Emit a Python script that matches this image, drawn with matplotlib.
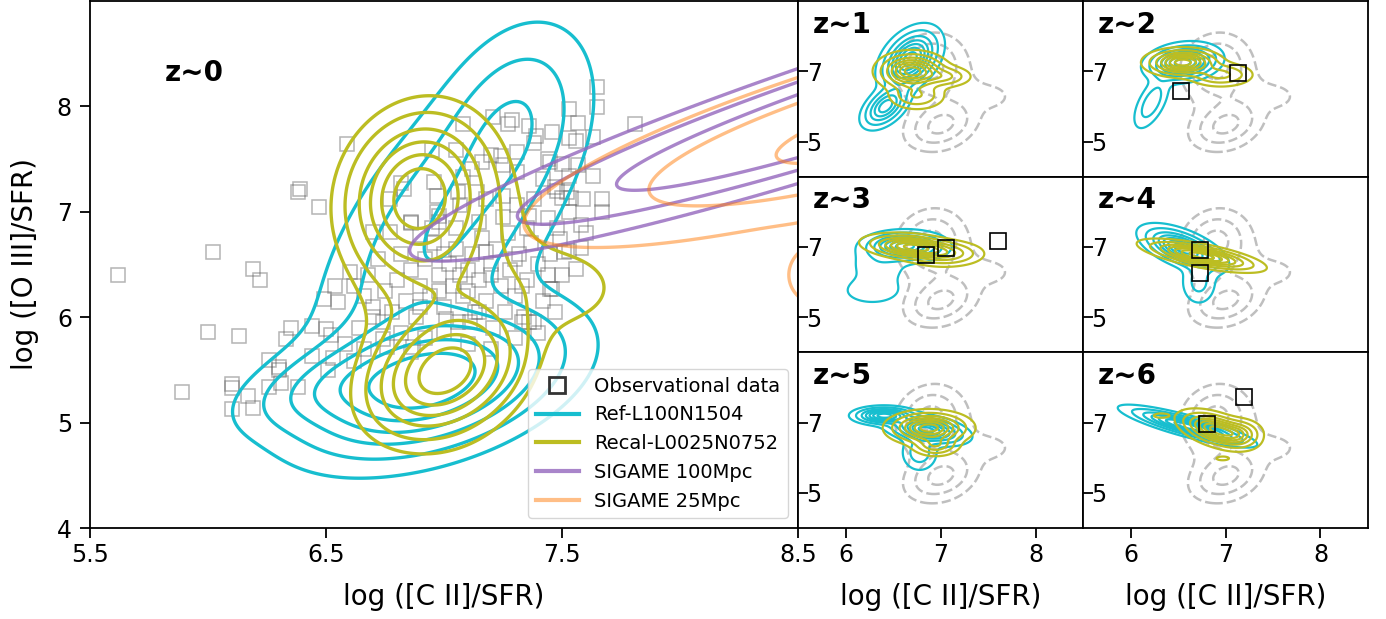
import numpy as np
import matplotlib.pyplot as plt
from matplotlib.lines import Line2D

# observational data, z~0 panel (log [C II]/SFR, log [O III]/SFR)
obs0_x = [5.62, 6.02, 6.19, 6.22, 6.39, 6.38, 6.47, 6.59, 5.89, 6.00, 6.13, 6.10, 6.10, 6.17, 6.19,
          6.10, 6.26, 6.30, 6.30, 6.26, 6.31, 6.38, 6.35, 6.33, 6.44, 6.44, 6.50, 6.52, 6.53, 6.51,
          6.62, 6.49, 6.55, 6.54, 6.86,
          6.82, 6.83, 6.95, 6.96, 6.97, 6.86, 6.77, 6.98, 7.08, 7.21, 7.29, 7.36, 7.27, 7.39, 7.46,
          7.65, 7.65, 7.53, 7.57, 7.81, 7.63, 7.53, 7.56, 7.05, 7.12, 7.20, 7.24, 7.31, 7.38, 7.44,
          7.45, 7.57, 7.63, 7.67, 7.67, 7.59, 7.52, 7.53, 7.58, 7.49, 7.53, 7.56, 7.51, 7.46, 7.48,
          7.42, 7.31, 7.25, 7.16, 7.08, 7.07, 7.06, 7.14, 7.18, 7.25, 7.31, 7.38, 7.36, 7.44, 6.97,
          6.98, 6.86, 6.77, 6.70, 6.90, 6.60, 7.50, 7.53, 7.47, 7.50, 7.54, 7.60, 7.58, 7.50,
          6.62, 6.66, 6.70, 6.68, 6.72, 6.75, 6.78, 6.80, 6.82, 6.84, 6.86, 6.88, 6.90, 6.92, 6.94,
          6.96, 6.98, 7.00, 7.02, 7.04, 7.05, 7.06, 7.08, 7.10, 7.12, 7.13, 7.15, 7.16, 7.18, 7.20,
          7.21, 7.22, 7.24, 7.26, 7.27, 7.28, 7.30, 7.32, 7.34, 7.35, 7.37, 7.38, 7.40, 7.42, 7.44,
          7.45, 7.47, 7.48, 6.74, 6.82, 6.92, 7.00, 7.10, 7.20, 7.30, 7.40, 6.95, 7.05, 7.15, 7.25,
          7.35, 6.70, 6.64, 6.58, 6.66, 6.76, 7.00, 6.90, 7.10, 7.20, 7.30, 7.33, 7.15, 6.98, 7.07,
          7.18, 7.36, 7.45, 7.33, 7.11, 7.01, 6.87, 6.74]
obs0_y = [6.40, 6.62, 6.46, 6.35, 7.22, 7.19, 7.05, 7.64, 5.29, 5.86, 5.82, 5.37, 5.33, 5.25, 5.14,
          5.13, 5.59, 5.53, 5.50, 5.34, 5.38, 5.34, 5.90, 5.79, 5.63, 5.92, 5.89, 5.83, 5.61, 5.50,
          5.58, 6.17, 6.14, 6.30, 5.67,
          7.27, 7.22, 7.59, 7.28, 7.15, 6.89, 7.12, 6.96, 7.83, 7.90, 7.87, 7.81, 7.83, 7.72, 7.76,
          8.18, 7.99, 7.98, 7.84, 7.83, 7.71, 7.70, 7.67, 7.59, 7.41, 7.54, 7.53, 7.57, 7.65, 7.50,
          7.47, 7.44, 7.34, 7.12, 7.00, 7.12, 7.19, 7.00, 6.87, 6.74, 6.63, 6.46, 6.62, 6.27, 7.20,
          7.31, 7.38, 7.44, 7.47, 7.33, 7.06, 7.19, 7.19, 7.12, 7.15, 7.06, 7.12, 6.96, 6.94, 7.00,
          6.90, 6.90, 6.81, 6.81, 6.78, 6.43, 7.45, 7.34, 7.24, 7.13, 7.13, 6.80, 6.66, 6.40,
          6.30, 6.20, 6.10, 6.40, 6.55, 6.25, 6.05, 6.35, 6.60, 6.15, 6.45, 6.00, 6.30, 6.55, 6.20,
          6.70, 6.40, 6.10, 6.50, 6.30, 6.65, 5.95, 6.20, 6.45, 6.60, 6.05, 6.35, 6.75, 6.15, 6.50,
          5.90, 6.65, 6.30, 6.05, 6.80, 6.45, 6.20, 6.60, 6.00, 6.35, 6.70, 5.95, 6.50, 6.15, 6.40,
          6.60, 6.05, 6.85, 5.95, 5.85, 5.80, 5.85, 5.75, 5.70, 5.80, 5.85, 6.85, 6.85, 6.90, 6.95,
          6.85, 6.00, 5.90, 5.75, 5.70, 5.72, 6.60, 6.10, 6.25, 6.40, 6.55, 6.30, 6.05, 6.25, 6.40,
          6.62, 5.95, 6.27, 5.95, 5.95, 5.98, 5.72, 5.79]

# observational points in the high-z panels
obs_hz = {
    2: ([6.53, 7.13], [6.43, 6.94]),
    3: ([6.85, 7.06, 7.60], [6.77, 6.97, 7.17]),
    4: ([6.73, 6.73], [6.91, 6.26]),
    6: ([6.80, 7.20], [6.97, 7.72]),
}

# gaussian components: (x0, y0, sx, sy, rho, weight)
ref_z0 = [(6.95, 5.38, 0.30, 0.38, 0.40, 1.0),
          (6.50, 5.35, 0.22, 0.25, 0.50, 0.22),
          (7.00, 6.80, 0.30, 0.85, 0.60, 0.33),
          (7.30, 7.90, 0.17, 0.50, 0.30, 0.22)]
recal_z0 = [(6.89, 7.15, 0.15, 0.38, 0.10, 1.0),
            (7.00, 5.47, 0.16, 0.30, 0.30, 0.95),
            (7.02, 6.30, 0.20, 0.75, 0.00, 0.22),
            (7.50, 6.28, 0.20, 0.30, 0.00, 0.08)]
sig100 = [(8.90, 8.10, 0.60, 0.46, 0.935, 1.0)]
sig25 = [(9.00, 7.90, 0.586, 0.437, 0.818, 1.0),
         (8.60, 6.40, 0.12, 0.25, 0.00, 0.035)]

ref_hz = {
    1: [(6.68, 7.35, 0.15, 0.42, 0.40, 1.0), (6.42, 6.00, 0.12, 0.30, 0.50, 0.7)],
    2: [(6.55, 7.25, 0.18, 0.25, 0.20, 1.0), (6.22, 6.10, 0.10, 0.40, 0.60, 0.25)],
    3: [(6.63, 7.02, 0.20, 0.20, 0.00, 1.0), (6.35, 6.50, 0.18, 0.35, 0.00, 0.12),
        (6.28, 5.75, 0.20, 0.25, 0.00, 0.11)],
    4: [(6.55, 6.95, 0.20, 0.30, -0.60, 1.0), (6.72, 6.00, 0.10, 0.35, 0.00, 0.2)],
    5: [(6.40, 7.20, 0.15, 0.12, 0.00, 1.0), (6.85, 6.80, 0.20, 0.20, -0.40, 1.0),
        (6.78, 6.15, 0.10, 0.28, 0.00, 0.25)],
    6: [(6.60, 6.90, 0.30, 0.25, -0.85, 1.0)],
}
recal_hz = {
    1: [(6.70, 7.00, 0.17, 0.25, 0.00, 1.0), (7.05, 6.85, 0.14, 0.15, 0.00, 0.3),
        (6.75, 6.30, 0.15, 0.20, 0.00, 0.3)],
    2: [(6.55, 7.25, 0.18, 0.18, 0.00, 1.0), (6.95, 6.90, 0.17, 0.17, 0.00, 0.35)],
    3: [(6.70, 7.00, 0.23, 0.17, -0.30, 1.0), (7.05, 6.80, 0.20, 0.18, 0.00, 0.4)],
    4: [(6.75, 6.75, 0.28, 0.20, -0.70, 1.0)],
    5: [(6.88, 6.85, 0.20, 0.22, 0.00, 1.0), (6.95, 6.35, 0.12, 0.15, 0.00, 0.4)],
    6: [(6.90, 6.80, 0.18, 0.25, -0.50, 1.0), (7.15, 6.70, 0.12, 0.20, 0.00, 0.4),
        (6.32, 7.20, 0.05, 0.04, 0.00, 0.15), (6.97, 5.98, 0.05, 0.04, 0.00, 0.12)],
}

CYAN = '#17becf'
OLIVE = '#bcbd22'
PURPLE = '#9467bd'
ORANGE = '#ff7f0e'

gx, gy = np.meshgrid(np.linspace(5.0, 10.0, 500), np.linspace(3.5, 10.5, 500))


def density(comps):
    z = np.zeros_like(gx)
    for x0, y0, sx, sy, rho, w in comps:
        dx = (gx - x0) / sx
        dy = (gy - y0) / sy
        q = (dx**2 - 2 * rho * dx * dy + dy**2) / (1 - rho**2)
        z += w * np.exp(-0.5 * q)
    return z / z.max()


plt.rcParams['font.family'] = 'DejaVu Sans'
fig = plt.figure(figsize=(13.86, 6.19), dpi=100)

ax = fig.add_axes([0.0649, 0.147, 0.5108, 0.8514])
ax.plot(obs0_x, obs0_y, ls='none', marker='s', ms=9.5, mfc='none',
        mec=(0.35, 0.35, 0.35, 0.45), mew=1.1)
ax.contour(gx, gy, density(ref_z0), levels=[0.06, 0.16, 0.3, 0.45, 0.62, 0.8],
           colors=CYAN, linewidths=2.4)
ax.contour(gx, gy, density(recal_z0), levels=[0.05, 0.12, 0.25, 0.4, 0.58, 0.78],
           colors=OLIVE, linewidths=2.4)
ax.contour(gx, gy, density(sig100), levels=[0.003, 0.03, 0.15],
           colors=PURPLE, linewidths=2.4, alpha=0.8)
ax.contour(gx, gy, density(sig25), levels=[0.018, 0.155, 0.6],
           colors=ORANGE, linewidths=2.4, alpha=0.5)
ax.set_xlim(5.5, 8.5)
ax.set_ylim(4, 9)
ax.set_xticks([5.5, 6.5, 7.5, 8.5])
ax.set_yticks([4, 5, 6, 7, 8])
ax.tick_params(labelsize=17, length=7, width=1.3)
ax.tick_params(axis='y', pad=6)
for s in ax.spines.values():
    s.set_linewidth(1.3)
ax.set_xlabel('log ([C II]/SFR)', fontsize=20, labelpad=12)
ax.set_ylabel('log ([O III]/SFR)', fontsize=20, labelpad=13)
ax.text(0.105, 0.848, 'z~0', transform=ax.transAxes, fontsize=20, fontweight='bold')

handles = [
    Line2D([], [], ls='none', marker='s', ms=11, mfc='none', mec='#333333', mew=2),
    Line2D([], [], color=CYAN, lw=3),
    Line2D([], [], color=OLIVE, lw=3),
    Line2D([], [], color=PURPLE, lw=3, alpha=0.8),
    Line2D([], [], color=ORANGE, lw=3, alpha=0.5),
]
labels = ['Observational data', 'Ref-L100N1504', 'Recal-L0025N0752',
          'SIGAME 100Mpc', 'SIGAME 25Mpc']
ax.legend(handles, labels, loc='lower right', fontsize=14, handlelength=2.2)

gray_z0 = density(recal_z0)
col_left = [0.5758, 0.7814]
row_bot = [0.147 + 2 * 0.2838, 0.147 + 0.2838, 0.147]
for z in range(1, 7):
    r = (z - 1) // 2
    c = (z - 1) % 2
    a = fig.add_axes([col_left[c], row_bot[r], 0.2056, 0.2838])
    a.contour(gx, gy, gray_z0, levels=[0.05, 0.25, 0.7], colors='gray',
              linewidths=1.8, linestyles='--', alpha=0.5)
    a.contour(gx, gy, density(ref_hz[z]), levels=[0.05, 0.15, 0.3, 0.45, 0.6, 0.75, 0.9],
              colors=CYAN, linewidths=1.6)
    a.contour(gx, gy, density(recal_hz[z]), levels=[0.05, 0.15, 0.3, 0.45, 0.6, 0.75, 0.9],
              colors=OLIVE, linewidths=1.6)
    if z in obs_hz:
        a.plot(obs_hz[z][0], obs_hz[z][1], ls='none', marker='s', ms=11.5,
               mfc='none', mec='black', mew=1.2)
    a.set_xlim(5.5, 8.5)
    a.set_ylim(4, 9)
    a.set_xticks([6, 7, 8])
    a.set_yticks([5, 7])
    a.tick_params(axis='y', direction='in', pad=-17, labelsize=17, length=7, width=1.3)
    a.tick_params(axis='x', labelsize=17, length=7, width=1.3)
    for s in a.spines.values():
        s.set_linewidth(1.3)
    if r < 2:
        a.tick_params(axis='x', labelbottom=False, length=0)
    else:
        a.set_xlabel('log ([C II]/SFR)', fontsize=20, labelpad=12)
    a.text(0.05, 0.82, f'z~{z}', transform=a.transAxes, fontsize=20, fontweight='bold')

fig.savefig('out.png', dpi=100)
